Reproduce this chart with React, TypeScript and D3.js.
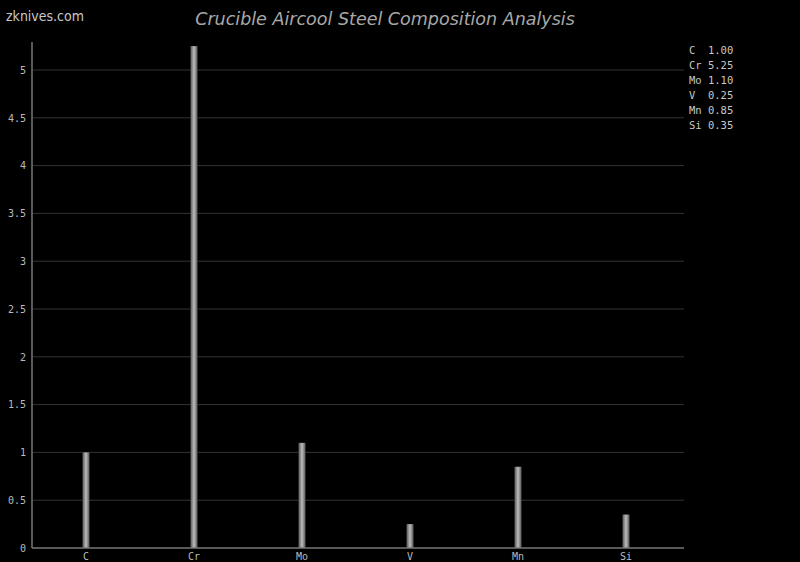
import { useRef, useEffect } from 'react';
import * as d3 from 'd3';

const elements = ['C', 'Cr', 'Mo', 'V', 'Mn', 'Si'];
const percents = [1.0, 5.25, 1.1, 0.25, 0.85, 0.35];
const yTicks = [0, 0.5, 1, 1.5, 2, 2.5, 3, 3.5, 4, 4.5, 5];

const width = 800;
const height = 562;
const marginLeft = 32;
const plotRight = 684;
const bandRight = 680;
const marginBottom = 14;
const plotTop = 42;

export default function App() {
  const gx = useRef<SVGGElement>(null);
  const gy = useRef<SVGGElement>(null);

  const x = d3.scaleBand(elements, [marginLeft, bandRight]);
  const y = d3.scaleLinear([0, 5], [height - marginBottom, 70]);
  const barW = 7;

  useEffect(() => {
    if (gx.current) {
      const g = d3.select(gx.current);
      g.call(d3.axisBottom(x).tickSize(0).tickPadding(5));
      g.select('.domain').remove();
      g.selectAll('text')
        .attr('fill', '#bbb')
        .attr('font-family', '"DejaVu Sans Mono", monospace')
        .attr('font-size', 10);
    }
  }, [x]);

  useEffect(() => {
    if (gy.current) {
      const g = d3.select(gy.current);
      g.call(d3.axisLeft(y).tickValues(yTicks).tickSize(0).tickPadding(5).tickFormat(d3.format('')));
      g.select('.domain').remove();
      g.selectAll('text')
        .attr('fill', '#bbb')
        .attr('font-family', '"DejaVu Sans Mono", monospace')
        .attr('font-size', 10);
    }
  }, [y]);

  return (
    <svg
      width={width}
      height={height}
      style={{ position: 'fixed', left: 0, top: 0, background: '#000' }}
    >
      <defs>
        <linearGradient id="barGrad" x1="0" x2="1" y1="0" y2="0">
          <stop offset="0%" stopColor="#555" />
          <stop offset="50%" stopColor="#bdbdbd" />
          <stop offset="100%" stopColor="#555" />
        </linearGradient>
      </defs>
      <rect x={0} y={0} width={width} height={height} fill="#000" />
      <text
        x={6}
        y={21}
        fill="#c8c8c8"
        fontSize={14}
        fontFamily='"DejaVu Sans Condensed", "DejaVu Sans", sans-serif'
        textLength={78}
        lengthAdjust="spacingAndGlyphs"
      >
        zknives.com
      </text>
      <text
        x={385}
        y={25}
        textAnchor="middle"
        fill="#a8a8a8"
        fontSize={17.5}
        fontStyle="italic"
        fontFamily='"DejaVu Sans", sans-serif'
      >
        Crucible Aircool Steel Composition Analysis
      </text>
      {yTicks.filter((t) => t > 0).map((t) => (
        <line key={t} x1={marginLeft} x2={plotRight} y1={y(t)} y2={y(t)} stroke="#333" strokeWidth={1} />
      ))}
      {elements.map((el, i) => (
        <rect
          key={el}
          x={(x(el) ?? 0) + x.bandwidth() / 2 - barW / 2}
          y={y(percents[i])}
          width={barW}
          height={y(0) - y(percents[i])}
          fill="url(#barGrad)"
        />
      ))}
      <line x1={marginLeft} x2={marginLeft} y1={plotTop} y2={y(0)} stroke="#777" strokeWidth={1.5} />
      <line x1={marginLeft} x2={plotRight} y1={y(0)} y2={y(0)} stroke="#777" strokeWidth={1.5} />
      <g ref={gx} transform={`translate(0, ${y(0)})`} />
      <g ref={gy} transform={`translate(${marginLeft - 1}, 0)`} />
      {elements.map((el, i) => (
        <text
          key={el}
          x={689}
          y={54 + i * 15}
          fill="#c8c8c8"
          fontSize={10.5}
          fontFamily='"DejaVu Sans Mono", monospace'
          style={{ whiteSpace: 'pre' }}
        >
          {`${el.padEnd(2, ' ')} ${percents[i].toFixed(2)}`}
        </text>
      ))}
    </svg>
  );
}
